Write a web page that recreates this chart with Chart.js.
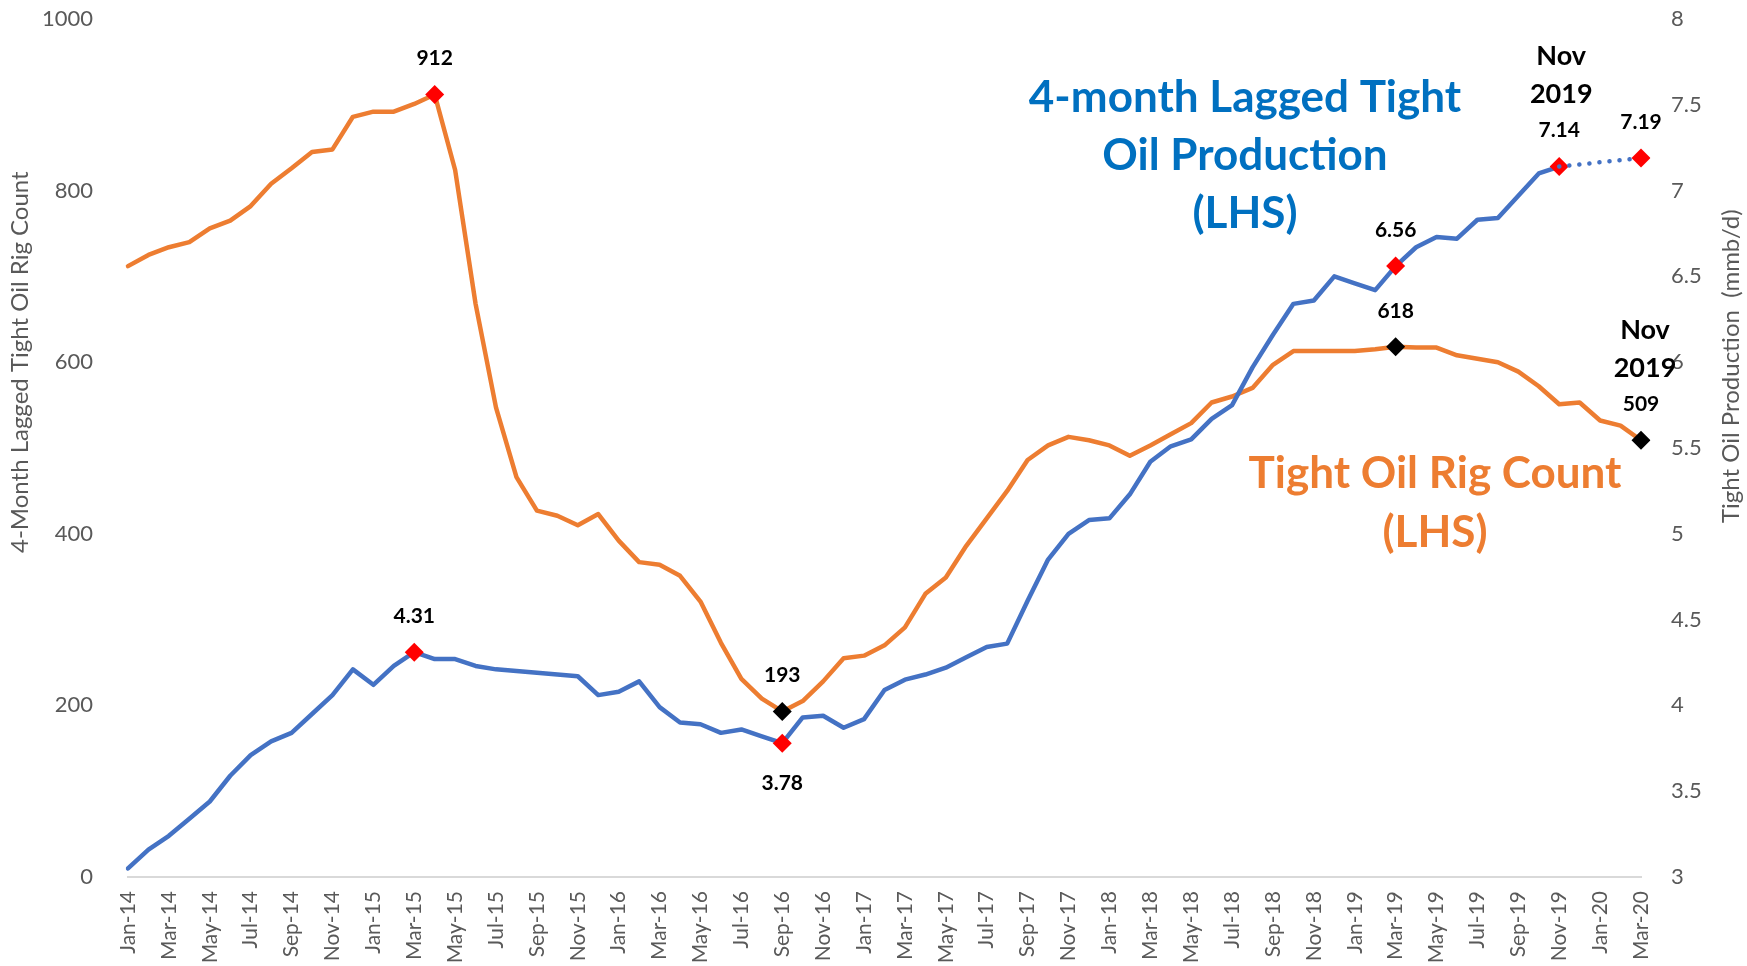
<!DOCTYPE html>
<html>
<head>
<meta charset="utf-8">
<script src="https://cdn.jsdelivr.net/npm/chart.js@4.4.1/dist/chart.umd.min.js"></script>
<style>
  html, body { margin: 0; padding: 0; background: #fff; }
  #wrap { width: 1747px; height: 966px; position: relative; }
</style>
</head>
<body>
<div id="wrap"><canvas id="oilChart"></canvas></div>
<script>
// monthly categories, Jan-14 .. Mar-20
const months = [
  "Jan-14","Feb-14","Mar-14","Apr-14","May-14","Jun-14","Jul-14","Aug-14","Sep-14","Oct-14","Nov-14","Dec-14",
  "Jan-15","Feb-15","Mar-15","Apr-15","May-15","Jun-15","Jul-15","Aug-15","Sep-15","Oct-15","Nov-15","Dec-15",
  "Jan-16","Feb-16","Mar-16","Apr-16","May-16","Jun-16","Jul-16","Aug-16","Sep-16","Oct-16","Nov-16","Dec-16",
  "Jan-17","Feb-17","Mar-17","Apr-17","May-17","Jun-17","Jul-17","Aug-17","Sep-17","Oct-17","Nov-17","Dec-17",
  "Jan-18","Feb-18","Mar-18","Apr-18","May-18","Jun-18","Jul-18","Aug-18","Sep-18","Oct-18","Nov-18","Dec-18",
  "Jan-19","Feb-19","Mar-19","Apr-19","May-19","Jun-19","Jul-19","Aug-19","Sep-19","Oct-19","Nov-19","Dec-19",
  "Jan-20","Feb-20","Mar-20"
];

// tight oil rig count (left axis)
const rigCount = [
  712, 725, 734, 740, 756, 765, 782, 808, 826, 845, 848, 886,
  892, 892, 901, 912, 824, 668, 547, 466, 427, 421, 410, 423,
  392, 367, 364, 351, 321, 273, 231, 208, 193, 205, 228, 255,
  258, 270, 291, 330, 349, 386, 418, 450, 486, 503, 513, 509,
  503, 491, 503, 516, 529, 553, 560, 570, 597, 613, 613, 613,
  613, 615, 618, 617, 617, 608, 604, 600, 589, 572, 551, 553,
  532, 526, 509
];

// 4-month lagged tight oil production, mmb/d (right axis)
const production = [
  3.05, 3.16, 3.24, 3.34, 3.44, 3.59, 3.71, 3.79, 3.84, 3.95, 4.06, 4.21,
  4.12, 4.23, 4.31, 4.27, 4.27, 4.23, 4.21, 4.20, 4.19, 4.18, 4.17, 4.06,
  4.08, 4.14, 3.99, 3.90, 3.89, 3.84, 3.86, 3.82, 3.78, 3.93, 3.94, 3.87,
  3.92, 4.09, 4.15, 4.18, 4.22, 4.28, 4.34, 4.36, 4.61, 4.85, 5.00, 5.08,
  5.09, 5.23, 5.42, 5.51, 5.55, 5.67, 5.75, 5.97, 6.16, 6.34, 6.36, 6.50,
  6.46, 6.42, 6.56, 6.67, 6.73, 6.72, 6.83, 6.84, 6.97, 7.10, 7.14, null,
  null, null, null
];

// dotted extension Nov-19 -> Mar-20
const productionAhead = [
  null, null, null, null, null, null, null, null, null, null, null, null,
  null, null, null, null, null, null, null, null, null, null, null, null,
  null, null, null, null, null, null, null, null, null, null, null, null,
  null, null, null, null, null, null, null, null, null, null, null, null,
  null, null, null, null, null, null, null, null, null, null, null, null,
  null, null, null, null, null, null, null, null, null, null, 7.14, null,
  null, null, 7.19
];

const rigTicks = [0, 200, 400, 600, 800, 1000];
const prodTicks = [3, 3.5, 4, 4.5, 5, 5.5, 6, 6.5, 7, 7.5, 8];

// highlighted points: index -> marker colour
const rigMarks = { 15: "#FF0000", 32: "#000000", 62: "#000000", 74: "#000000" };
const prodMarks = { 14: "#FF0000", 32: "#FF0000", 62: "#FF0000", 70: "#FF0000" };
const aheadMarks = { 74: "#FF0000" };

// value labels: dataset, index, vertical offset, optional note lines above
const valueLabels = [
  { ds: 0, idx: 15, dy: -36 },
  { ds: 0, idx: 32, dy: -36 },
  { ds: 0, idx: 62, dy: -36 },
  { ds: 0, idx: 74, dy: -36, note: ["Nov", "2019"], nx: 4 },
  { ds: 1, idx: 14, dy: -36 },
  { ds: 1, idx: 32, dy: 40 },
  { ds: 1, idx: 62, dy: -36 },
  { ds: 1, idx: 70, dy: -36, note: ["Nov", "2019"], nx: 2 },
  { ds: 2, idx: 74, dy: -36 }
];

const ORANGE = "#ED7D31";
const BLUE = "#4472C4";
const GREY = "#595959";

Chart.defaults.font.family = "Lato";

const markRadius = marks => ctx => (marks[ctx.dataIndex] ? 9.5 : 0);
const markColor = marks => ctx => marks[ctx.dataIndex] || "rgba(0,0,0,0)";

const labelPlugin = {
  id: "labelPlugin",
  afterDatasetsDraw(chart) {
    const ctx = chart.ctx;
    ctx.save();
    ctx.textAlign = "center";
    ctx.textBaseline = "middle";
    ctx.fillStyle = "#000";
    valueLabels.forEach(l => {
      const pt = chart.getDatasetMeta(l.ds).data[l.idx];
      const val = chart.data.datasets[l.ds].data[l.idx];
      ctx.font = "bold 21px Lato";
      ctx.fillText(String(val), pt.x, pt.y + l.dy);
      if (l.note) {
        ctx.font = "bold 27px Lato";
        ctx.fillText(l.note[1], pt.x + l.nx, pt.y + l.dy - 36);
        ctx.fillText(l.note[0], pt.x + l.nx, pt.y + l.dy - 74);
      }
    });

    // big series annotations
    ctx.font = "bold 44px Lato";
    ctx.fillStyle = "#0070C0";
    ["4-month Lagged Tight", "Oil Production", "(LHS)"].forEach((t, i) => {
      ctx.fillText(t, 1245, 98 + i * 58);
    });
    ctx.fillStyle = ORANGE;
    ["Tight Oil Rig Count", "(LHS)"].forEach((t, i) => {
      ctx.fillText(t, 1435, 474 + i * 59);
    });

    // axis titles
    const ca = chart.chartArea;
    const midY = ca.top + (ca.bottom - ca.top) * 0.4;
    ctx.font = "24px Lato";
    ctx.fillStyle = GREY;
    ctx.translate(20, midY);
    ctx.rotate(-Math.PI / 2);
    ctx.fillText("4-Month Lagged Tight Oil Rig Count", 0, 0);
    ctx.setTransform(1, 0, 0, 1, 0, 0);
    ctx.translate(1731, midY + 4);
    ctx.rotate(-Math.PI / 2);
    ctx.fillText("Tight Oil Production  (mmb/d)", 0, 0);
    ctx.restore();
  }
};

new Chart(document.getElementById("oilChart"), {
  type: "line",
  data: {
    labels: months,
    datasets: [
      {
        label: "Tight Oil Rig Count",
        data: rigCount,
        yAxisID: "y",
        borderColor: ORANGE,
        borderWidth: 4.5,
        borderJoinStyle: "round",
        borderCapStyle: "round",
        tension: 0,
        pointStyle: "rectRot",
        pointRadius: markRadius(rigMarks),
        pointBackgroundColor: markColor(rigMarks),
        pointBorderWidth: 0,
        order: 2
      },
      {
        label: "4-month Lagged Tight Oil Production",
        data: production,
        yAxisID: "y1",
        borderColor: BLUE,
        borderWidth: 4.5,
        borderJoinStyle: "round",
        borderCapStyle: "round",
        tension: 0,
        pointStyle: "rectRot",
        pointRadius: markRadius(prodMarks),
        pointBackgroundColor: markColor(prodMarks),
        pointBorderWidth: 0,
        order: 1
      },
      {
        label: "Production ahead",
        data: productionAhead,
        yAxisID: "y1",
        borderColor: BLUE,
        borderWidth: 4.5,
        borderDash: [0.1, 10],
        borderCapStyle: "round",
        spanGaps: true,
        tension: 0,
        pointStyle: "rectRot",
        pointRadius: markRadius(aheadMarks),
        pointBackgroundColor: markColor(aheadMarks),
        pointBorderWidth: 0,
        order: 0
      }
    ]
  },
  options: {
    responsive: true,
    maintainAspectRatio: false,
    animation: false,
    events: [],
    layout: { autoPadding: false, padding: { top: 19, left: 0, right: 0, bottom: 0 } },
    plugins: {
      legend: { display: false },
      tooltip: { enabled: false }
    },
    scales: {
      x: {
        grid: { display: false, drawTicks: false },
        border: { display: true, color: "#D9D9D9", width: 2 },
        ticks: {
          autoSkip: false,
          maxRotation: 90,
          minRotation: 90,
          padding: 14,
          color: GREY,
          font: { size: 21 },
          callback: function (value, index) {
            return index % 2 === 0 ? this.getLabelForValue(value) : null;
          }
        },
        afterFit: s => { s.height = 89; }
      },
      y: {
        position: "left",
        min: 0,
        max: 1000,
        afterBuildTicks: s => { s.ticks = rigTicks.map(v => ({ value: v })); },
        grid: { display: false, drawTicks: true, tickLength: 32, tickColor: "rgba(0,0,0,0)" },
        border: { display: false },
        ticks: { padding: 3, color: GREY, font: { size: 22 }, callback: v => String(v) },
        afterFit: s => { s.width = 128; }
      },
      y1: {
        position: "right",
        min: 3,
        max: 8,
        afterBuildTicks: s => { s.ticks = prodTicks.map(v => ({ value: v })); },
        grid: { display: false, drawTicks: true, tickLength: 27, tickColor: "rgba(0,0,0,0)" },
        border: { display: false },
        ticks: { padding: 3, color: GREY, font: { size: 22 }, callback: v => String(v) },
        afterFit: s => { s.width = 106; }
      }
    }
  },
  plugins: [labelPlugin]
});
</script>
</body>
</html>
